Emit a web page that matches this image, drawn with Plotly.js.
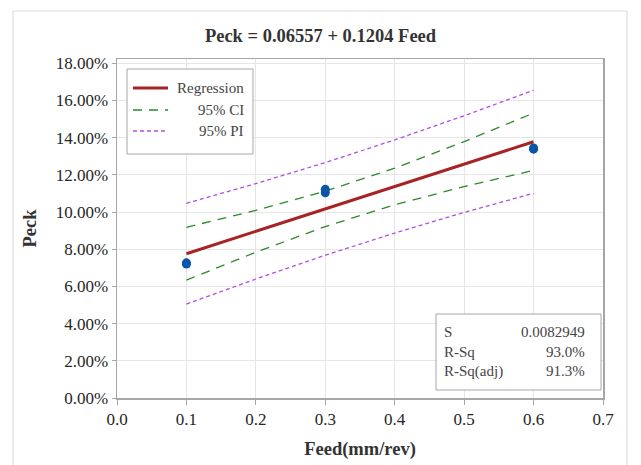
<!DOCTYPE html>
<html>
<head>
<meta charset="utf-8">
<script src="https://cdn.plot.ly/plotly-3.0.1.min.js"></script>
<style>
  html, body { margin: 0; padding: 0; background: #ffffff; }
  #chart { width: 641px; height: 465px; }
</style>
</head>
<body>
<div id="chart"></div>
<script>
// Observed data (Feed in mm/rev, Peck as fraction)
const feed = [0.1, 0.1, 0.3, 0.3, 0.6, 0.6];
const peck = [0.0720, 0.0727, 0.1104, 0.1122, 0.1338, 0.1345];

// Fitted regression line
const fitX = [0.1, 0.6];
const fitY = [0.0776, 0.1378];

// Confidence / prediction bands
const bandX   = [0.1, 0.2, 0.3, 0.4, 0.5, 0.6];
const ciUpper = [0.0918, 0.1009, 0.1112, 0.1236, 0.1379, 0.1532];
const ciLower = [0.0634, 0.0784, 0.0922, 0.1039, 0.1137, 0.1224];
const piUpper = [0.1047, 0.1153, 0.1266, 0.1388, 0.1518, 0.1655];
const piLower = [0.0505, 0.0640, 0.0768, 0.0887, 0.0998, 0.1101];

// Text
const chartTitle = "Peck = 0.06557 + 0.1204 Feed";
const xTitle = "Feed(mm/rev)";
const yTitle = "Peck";
const legendNames = ["Regression", "95% CI", "95% PI"];
const statLabels = ["S", "R-Sq", "R-Sq(adj)"];
const statValues = ["0.0082949", "93.0%", "91.3%"];
const xTicks = [0.0, 0.1, 0.2, 0.3, 0.4, 0.5, 0.6, 0.7];
const yTicks = [0, 0.02, 0.04, 0.06, 0.08, 0.10, 0.12, 0.14, 0.16, 0.18];

const FONT = "Liberation Serif, Times New Roman, serif";
const TXT = "#262626";
const colReg = "#a82323";
const colCI = "#2a8a2a";
const colPI = "#b44ee0";
const colPt = "#0a56a8";

const traces = [
  {x: bandX, y: piUpper, mode: "lines", line: {color: colPI, width: 1.3, dash: "4px,3px"}, hoverinfo: "skip", showlegend: false},
  {x: bandX, y: piLower, mode: "lines", line: {color: colPI, width: 1.3, dash: "4px,3px"}, hoverinfo: "skip", showlegend: false},
  {x: bandX, y: ciUpper, mode: "lines", line: {color: colCI, width: 1.3, dash: "9px,7px"}, hoverinfo: "skip", showlegend: false},
  {x: bandX, y: ciLower, mode: "lines", line: {color: colCI, width: 1.3, dash: "9px,7px"}, hoverinfo: "skip", showlegend: false},
  {x: fitX, y: fitY, mode: "lines", line: {color: colReg, width: 3}, showlegend: false},
  {x: feed, y: peck, mode: "markers", marker: {color: colPt, size: 9}, showlegend: false}
];

// Custom legend (line samples + right-aligned labels) in pixel-like paper coords
const L = 117, R = 603, T = 59, B = 398;
const px = v => (v - L) / (R - L);
const py = v => (B - v) / (B - T);

const shapes = [
  // outer light frame
  {type: "rect", xref: "paper", yref: "paper", x0: px(13), x1: px(627), y0: py(480), y1: py(11),
   line: {color: "#d8d8d8", width: 1}, fillcolor: "rgba(0,0,0,0)", layer: "below"},
  // legend box
  {type: "rect", xref: "paper", yref: "paper", x0: px(127), x1: px(253), y0: py(154), y1: py(69),
   line: {color: "#a6a6a6", width: 1}, fillcolor: "#ffffff"},
  {type: "line", xref: "paper", yref: "paper", x0: px(133), x1: px(168), y0: py(88), y1: py(88),
   line: {color: colReg, width: 3}},
  {type: "line", xref: "paper", yref: "paper", x0: px(133), x1: px(168), y0: py(110), y1: py(110),
   line: {color: colCI, width: 1.3, dash: "9px,7px"}},
  {type: "line", xref: "paper", yref: "paper", x0: px(133), x1: px(168), y0: py(131), y1: py(131),
   line: {color: colPI, width: 1.3, dash: "4px,3px"}},
  // stats box
  {type: "rect", xref: "paper", yref: "paper", x0: px(436), x1: px(601), y0: py(390), y1: py(314),
   line: {color: "#a6a6a6", width: 1}, fillcolor: "#ffffff"}
];

const annotations = [];
const legY = [88, 110, 131];
legendNames.forEach((n, i) => {
  annotations.push({xref: "paper", yref: "paper", x: px(246), y: py(legY[i]), xanchor: "right", yanchor: "middle",
    text: n, showarrow: false, font: {family: FONT, size: 15, color: "#444"}});
});
const statY = [332, 352, 371];
statLabels.forEach((n, i) => {
  annotations.push({xref: "paper", yref: "paper", x: px(442), y: py(statY[i]), xanchor: "left", yanchor: "middle",
    text: n, showarrow: false, font: {family: FONT, size: 15, color: "#444"}});
  annotations.push({xref: "paper", yref: "paper", x: px(587), y: py(statY[i]), xanchor: "right", yanchor: "middle",
    text: statValues[i], showarrow: false, font: {family: FONT, size: 15, color: "#444"}});
});

const layout = {
  width: 641, height: 465,
  margin: {l: L, r: 641 - R, t: T, b: 465 - B, pad: 0},
  paper_bgcolor: "#ffffff", plot_bgcolor: "#ffffff",
  showlegend: false,
  title: {text: "<b>" + chartTitle + "</b>", xref: "container", x: 0.5, xanchor: "center",
          yref: "container", y: 1 - 36 / 465, yanchor: "middle",
          font: {family: FONT, size: 18.5, color: "#333"}},
  xaxis: {
    range: [0, 0.7], tickvals: xTicks, tickformat: ".1f",
    showgrid: true, gridcolor: "#e6e6e6", gridwidth: 1, zeroline: false,
    showline: true, linecolor: "#a6a6a6", linewidth: 1.5, mirror: true,
    ticks: "outside", ticklen: 5, tickcolor: "#a6a6a6",
    tickfont: {family: FONT, size: 17, color: TXT},
    title: {text: "<b>" + xTitle + "</b>", standoff: 14, font: {family: FONT, size: 18.5, color: "#333"}},
    automargin: false
  },
  yaxis: {
    range: [0, 0.1823], tickvals: yTicks, tickformat: ".2%",
    showgrid: true, gridcolor: "#e6e6e6", gridwidth: 1, zeroline: false,
    showline: true, linecolor: "#a6a6a6", linewidth: 1.5, mirror: true,
    ticks: "outside", ticklen: 4, tickcolor: "#a6a6a6",
    tickfont: {family: FONT, size: 17, color: TXT},
    title: {text: "<b>" + yTitle + "</b>", standoff: 14, font: {family: FONT, size: 18.5, color: "#333"}},
    automargin: false
  },
  shapes: shapes,
  annotations: annotations
};

Plotly.newPlot("chart", traces, layout, {displayModeBar: false, staticPlot: true});
</script>
</body>
</html>
